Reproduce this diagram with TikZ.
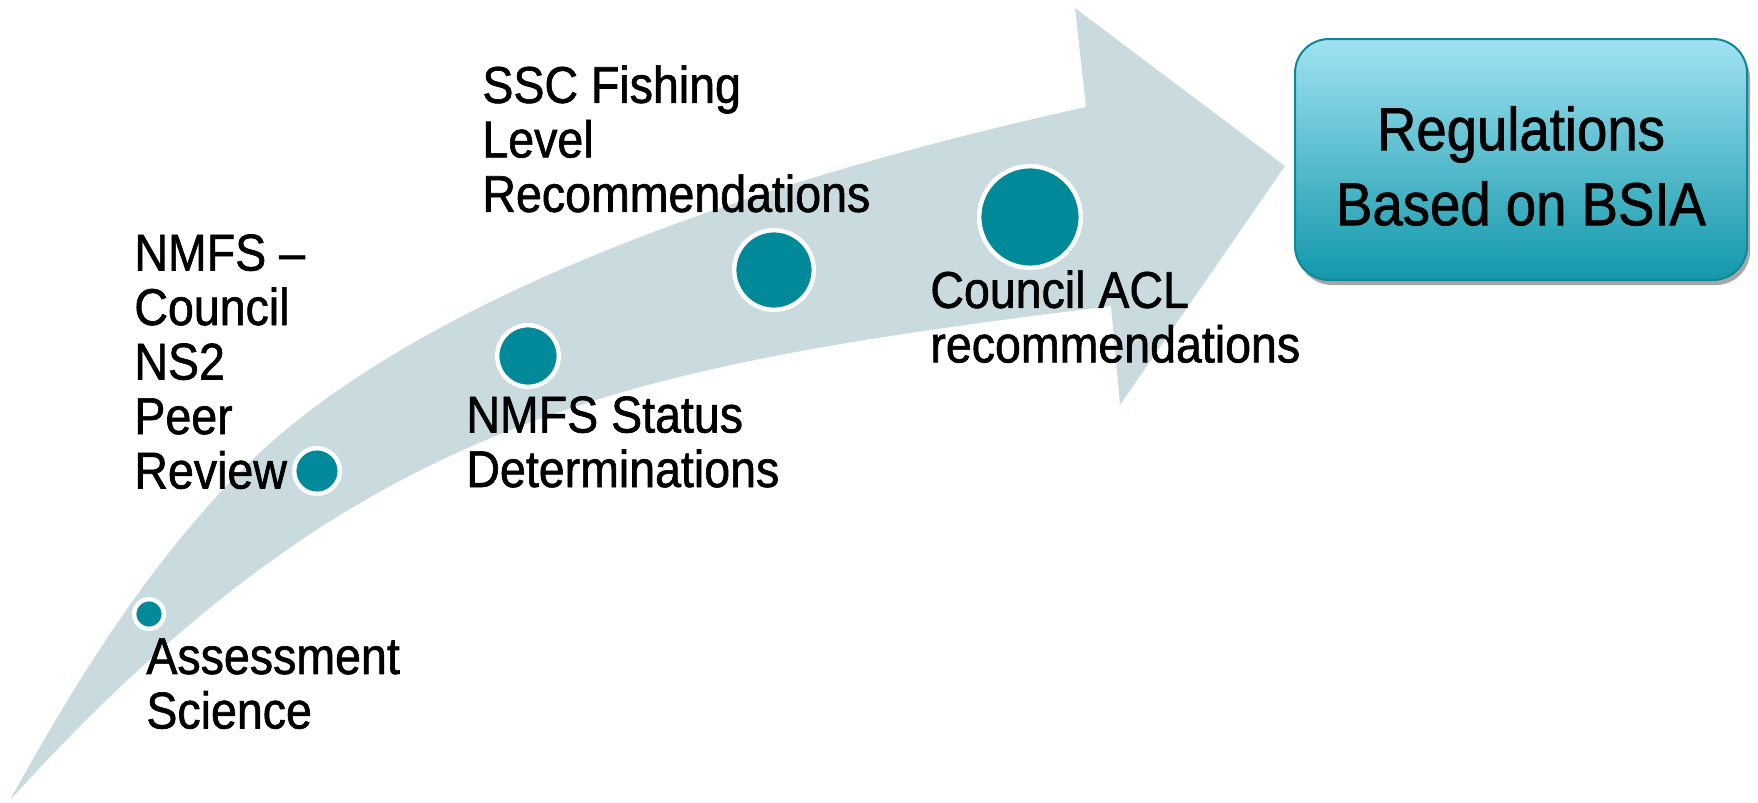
\documentclass[tikz,border=0pt]{standalone}
\usepackage{fontspec}
\setmainfont{Liberation Sans}[FakeStretch=0.9,FakeBold=1.2]
\usetikzlibrary{shadows}
\definecolor{bandcol}{RGB}{201,219,222}
\definecolor{dotteal}{RGB}{0,137,153}
\definecolor{boxtop}{RGB}{160,226,242}
\definecolor{boxbot}{RGB}{18,152,170}
\definecolor{boxedge}{RGB}{14,136,152}
\begin{document}
\begin{tikzpicture}[x=0.5pt,y=-0.5pt,
  lbl/.style={anchor=north west, inner sep=0pt, align=left,
    font=\fontsize{25.85pt}{27.25pt}\selectfont},
  dot/.style={circle, fill=dotteal, draw=white, line width=2.2pt,
    inner sep=0pt, minimum size=#1}]
\useasboundingbox (0,0) rectangle (1758,803);
% curved arrow band
\coordinate (tail) at (10,800);
\coordinate (mid) at (250,462);
\coordinate (sh1) at (1086,107);
\coordinate (htop) at (1075,8);
\coordinate (hpt) at (1285,166);
\coordinate (hbot) at (1120,405);
\coordinate (sh2) at (1111,306);
\fill[bandcol] (tail) .. controls (77,679) and (151,559) .. (mid)
  .. controls (379,336) and (646,204) .. (sh1)
  -- (htop) -- (hpt) -- (hbot) -- (sh2)
  .. controls (615,368) and (360,415) .. (tail) -- cycle;
% result box
\node[draw=boxedge, line width=1pt, rounded corners=17pt,
  top color=boxtop, bottom color=boxbot,
  minimum width=226pt, minimum height=120.5pt,
  drop shadow={shadow xshift=1.5pt, shadow yshift=-2.5pt, opacity=0.35, fill=black}]
  (reg) at (1521,159.5) {};
\node[align=center, inner sep=0pt, font=\fontsize{30.3pt}{37.5pt}\selectfont]
  (regtext) at ([yshift=-3.25pt]reg.center) {Regulations\\Based on BSIA};
% milestone dots
\node[dot=14.8pt] (d1) at (149,614) {};
\node[dot=22.8pt] (d2) at (317,471) {};
\node[dot=30.8pt] (d3) at (528,356) {};
\node[dot=39.8pt] (d4) at (774,270) {};
\node[dot=50.8pt] (d5) at (1030,217) {};
% labels
\node[lbl] (l1) at (146,638) {Assessment\\Science};
\node[lbl] (l2) at (134,234) {NMFS –\\Council\\NS2\\Peer\\Review};
\node[lbl] (l3) at (466,396) {NMFS Status\\Determinations};
\node[lbl] (l4) at (482,65) {SSC Fishing\\Level\\Recommendations};
\node[lbl] (l5) at (930,270) {Council ACL\\recommendations};
\end{tikzpicture}
\end{document}
